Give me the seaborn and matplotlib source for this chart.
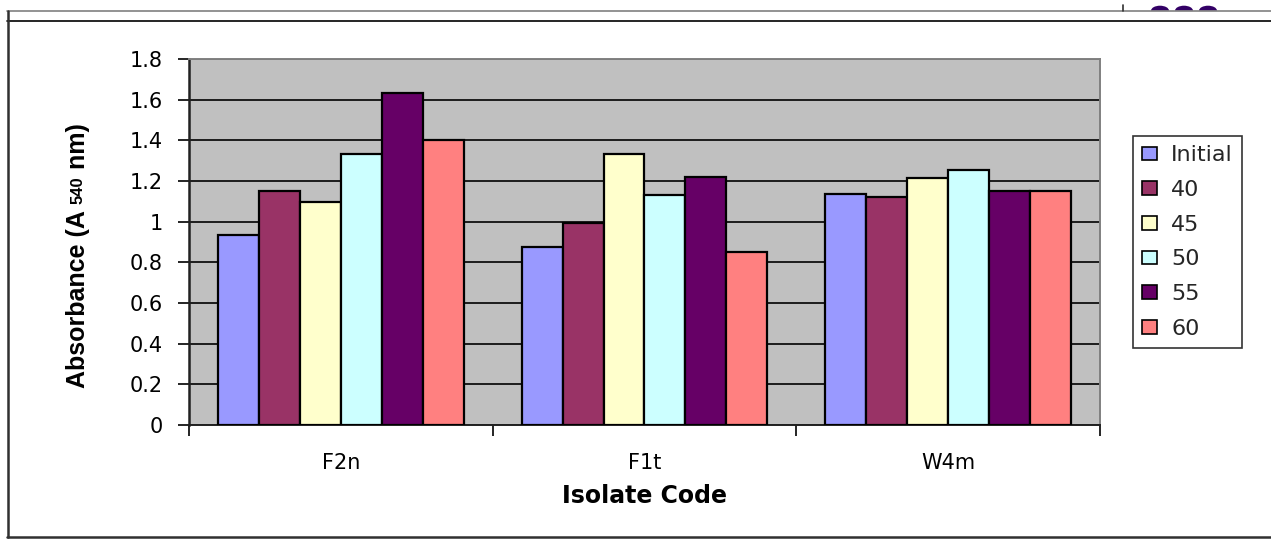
import numpy as np
import pandas as pd
import matplotlib
matplotlib.use("Agg")
import matplotlib.pyplot as plt
from matplotlib import font_manager
from matplotlib.lines import Line2D
from matplotlib.patches import Wedge
from matplotlib.transforms import Affine2D
from matplotlib.ticker import FixedLocator, FuncFormatter
import seaborn as sns

# ---- data -------------------------------------------------------------
isolates = ["F2n", "F1t", "W4m"]
series_names = ["Initial", "40", "45", "50", "55", "60"]
initial = [0.935, 0.875, 1.135]
t40 = [1.150, 0.995, 1.120]
t45 = [1.095, 1.335, 1.215]
t50 = [1.335, 1.130, 1.255]
t55 = [1.635, 1.220, 1.150]
t60 = [1.400, 0.850, 1.150]
series_values = [initial, t40, t45, t50, t55, t60]
colors = ["#9999FF", "#993366", "#FFFFCC", "#CCFFFF", "#660066", "#FF8080"]
y_ticks = [0, 0.2, 0.4, 0.6, 0.8, 1.0, 1.2, 1.4, 1.6, 1.8]

rows = []
for name, vals in zip(series_names, series_values):
    for iso, v in zip(isolates, vals):
        rows.append({"isolate": iso, "series": name, "absorbance": v})
df = pd.DataFrame(rows)

# ---- style ------------------------------------------------------------
sns.set_theme(style="white")
plt.rcParams["font.family"] = ["DejaVu Sans"]
available = {f.name for f in font_manager.fontManager.ttflist}
narrow = "Liberation Sans Narrow" if "Liberation Sans Narrow" in available else "Liberation Sans"

W, H = 1271, 539
fig = plt.figure(figsize=(W / 100, H / 100), dpi=100, facecolor="white")
ax = fig.add_axes([189 / W, 1 - 425 / H, (1100 - 189) / W, (425 - 59) / H])
ax.set_facecolor("#C0C0C0")

sns.barplot(data=df, x="isolate", y="absorbance", hue="series",
            order=isolates, hue_order=series_names,
            palette=dict(zip(series_names, colors)), saturation=1,
            width=0.81, edgecolor="black", linewidth=1.6, ax=ax, zorder=3)

ax.set_xlim(-0.5, 2.5)
ax.set_ylim(0, 1.8)
ax.set_yticks(y_ticks)
ax.yaxis.set_major_formatter(FuncFormatter(lambda v, p: f"{v:g}"))
ax.grid(axis="y", color="black", linewidth=1.2, zorder=0)
ax.grid(axis="x", visible=False)
ax.set_axisbelow(True)

ax.tick_params(axis="y", which="major", direction="out", length=8, width=1.2,
               color="black", pad=11, labelsize=15, labelcolor="black", left=True)
ax.tick_params(axis="x", which="major", length=0, pad=20, labelcolor="black")
ax.xaxis.set_minor_locator(FixedLocator([-0.5, 0.5, 1.5, 2.5]))
ax.tick_params(axis="x", which="minor", direction="out", length=8, width=1.2,
               color="black", bottom=True)
for lbl in ax.get_xticklabels():
    lbl.set_fontsize(15)
for lbl in ax.get_yticklabels():
    lbl.set_fontsize(15)

for side, col, lw in [("left", "#202020", 1.8), ("bottom", "#202020", 1.4),
                      ("top", "#808080", 1.4), ("right", "#808080", 1.4)]:
    ax.spines[side].set_visible(True)
    ax.spines[side].set_color(col)
    ax.spines[side].set_linewidth(lw)

# axis titles
ax.set_xlabel("Isolate Code", fontsize=17, fontweight="bold", color="black")
ax.xaxis.set_label_coords(0.5, (425 - 496) / (425 - 59))
ax.xaxis.label.set_va("center")
ax.set_ylabel("")

ylab_kw = dict(rotation=90, ha="center", va="bottom", fontweight="bold",
               family=[narrow, "DejaVu Sans"], color="black")
t1 = fig.text(78 / W, 1 - 388 / H, "Absorbance (A ", fontsize=18, **ylab_kw)
t2 = ax.annotate("540", xy=(0.5, 1), xycoords=t1, fontsize=12,
                 annotation_clip=False, **ylab_kw)
t3 = ax.annotate(" nm)", xy=(0.5, 1), xycoords=t2, fontsize=18,
                 annotation_clip=False, **ylab_kw)

# legend
handles, labels = ax.get_legend_handles_labels()
if ax.get_legend() is not None:
    ax.get_legend().remove()
leg = fig.legend(handles, labels, loc="center left",
                 bbox_to_anchor=(1133 / W, 1 - 242 / H),
                 fontsize=16, frameon=True, fancybox=False, shadow=False,
                 handlelength=0.65, handleheight=0.55, handletextpad=0.65,
                 labelspacing=0.66, borderpad=0.42, borderaxespad=0)
leg.get_frame().set_edgecolor("black")
leg.get_frame().set_linewidth(1.2)
for h in leg.legend_handles:
    h.set_edgecolor("black")
    h.set_linewidth(1.2)

# surrounding slide frame
fig.add_artist(Line2D([7 / W, 1], [1 - 10.7 / H] * 2, color="#808080", lw=1.2, transform=fig.transFigure))
fig.add_artist(Line2D([7 / W, 1], [1 - 21 / H] * 2, color="black", lw=1.2, transform=fig.transFigure))
fig.add_artist(Line2D([7.5 / W] * 2, [1 - 537 / H, 1 - 10.7 / H], color="#303030", lw=1.8, transform=fig.transFigure))
fig.add_artist(Line2D([7 / W, 1], [1 - 537 / H] * 2, color="#303030", lw=1.8, transform=fig.transFigure))
fig.add_artist(Line2D([1122.7 / W] * 2, [1 - 10.7 / H, 1 - 5 / H], color="#303030", lw=1.2, transform=fig.transFigure))
for cx in (1160, 1184, 1208):
    dome = Wedge((0, 0), 1, 0, 180, facecolor="#330066", edgecolor="none")
    dome.set_transform(Affine2D().scale(9 / W, 5 / H).translate(cx / W, 1 - 10.7 / H) + fig.transFigure)
    fig.add_artist(dome)

fig.savefig("out.png", dpi=100, facecolor="white")
